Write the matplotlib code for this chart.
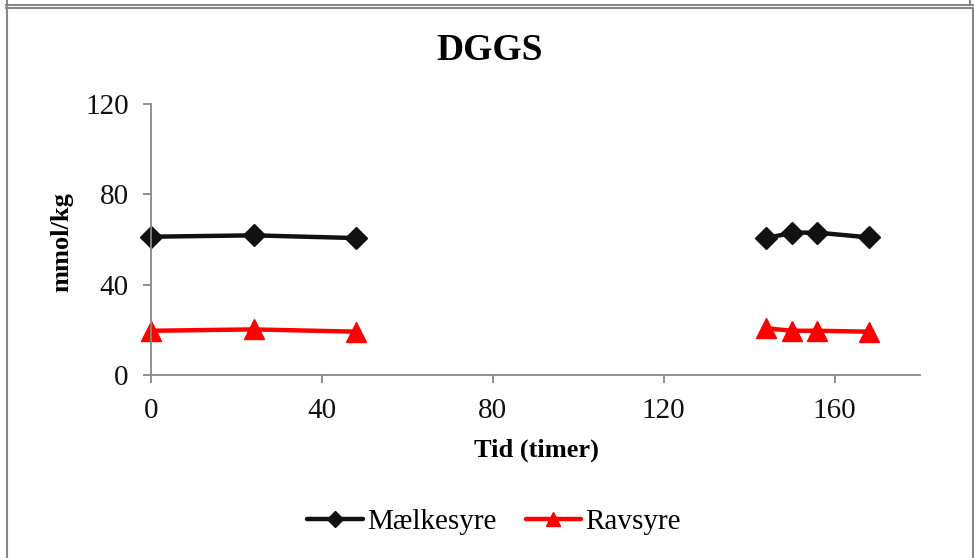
import numpy as np
import matplotlib
matplotlib.use('Agg')
import matplotlib.pyplot as plt
from matplotlib.lines import Line2D

plt.rcParams['font.family'] = ['Liberation Serif', 'DejaVu Serif']

# Målinger (timer, mmol/kg); NaN giver hul i linjen mellem 48 og 144 timer
tid = [0, 24, 48, np.nan, 144, 150, 156, 168]
maelkesyre = [61.3, 61.9, 60.7, np.nan, 60.6, 63.1, 63.1, 61.0]
ravsyre = [19.7, 20.3, 19.3, np.nan, 20.8, 19.7, 19.7, 19.3]

W, H = 974, 558
fig = plt.figure(figsize=(W / 100, H / 100), dpi=100)
ax = fig.add_axes([151 / W, 1 - 375.3 / H, (920 - 151) / W, (375.3 - 104) / H])

ax.plot(tid, maelkesyre, color='#111111', lw=3.2, marker='D', ms=11,
        label='Mælkesyre', solid_capstyle='round', clip_on=False)
ax.plot(tid, ravsyre, color='#ff0000', lw=3.2, marker='^', ms=14,
        label='Ravsyre', solid_capstyle='round', clip_on=False)

ax.set_xlim(0, 180)
ax.set_ylim(0, 120)
ax.set_xticks([0, 40, 80, 120, 160])
ax.set_yticks([0, 40, 80, 120])
for s in ['top', 'right']:
    ax.spines[s].set_visible(False)
for s in ['left', 'bottom']:
    ax.spines[s].set_color('#888888')
    ax.spines[s].set_linewidth(1.3)
ax.tick_params(colors='#888888', labelcolor='#111111', length=6, width=1.3,
               labelsize=21)
ax.tick_params(axis='y', pad=10)
ax.tick_params(axis='x', pad=10)

fig.text(490 / W, 1 - 50 / H, 'DGGS', fontsize=27, fontweight='bold',
         ha='center', va='center')
fig.text(536 / W, 1 - 450 / H, 'Tid (timer)', fontsize=19, fontweight='bold',
         ha='center', va='center')
fig.text(62 / W, 1 - 242 / H, 'mmol/kg', fontsize=19, fontweight='bold',
         ha='center', va='center', rotation=90)

ax.legend(loc='center', bbox_to_anchor=(494 / W, 1 - 522 / H),
          bbox_transform=fig.transFigure, ncol=2, frameon=False,
          fontsize=21, handlelength=1.9, columnspacing=1.0, handletextpad=0.15,
          markerscale=0.7)

# Grå ramme rundt om diagrammet
def pline(xs, ys, lw=1.5):
    fig.add_artist(Line2D([x / W for x in xs], [1 - y / H for y in ys],
                          color='#888888', lw=lw))

pline([6.5, 6.5], [0, H])
pline([6, 973], [4.5, 4.5])
pline([6, 973], [7.5, 7.5])
pline([969.5, 969.5], [0, 4.5])
pline([972.5, 972.5], [7.5, H])

fig.savefig('out.png', dpi=100)
